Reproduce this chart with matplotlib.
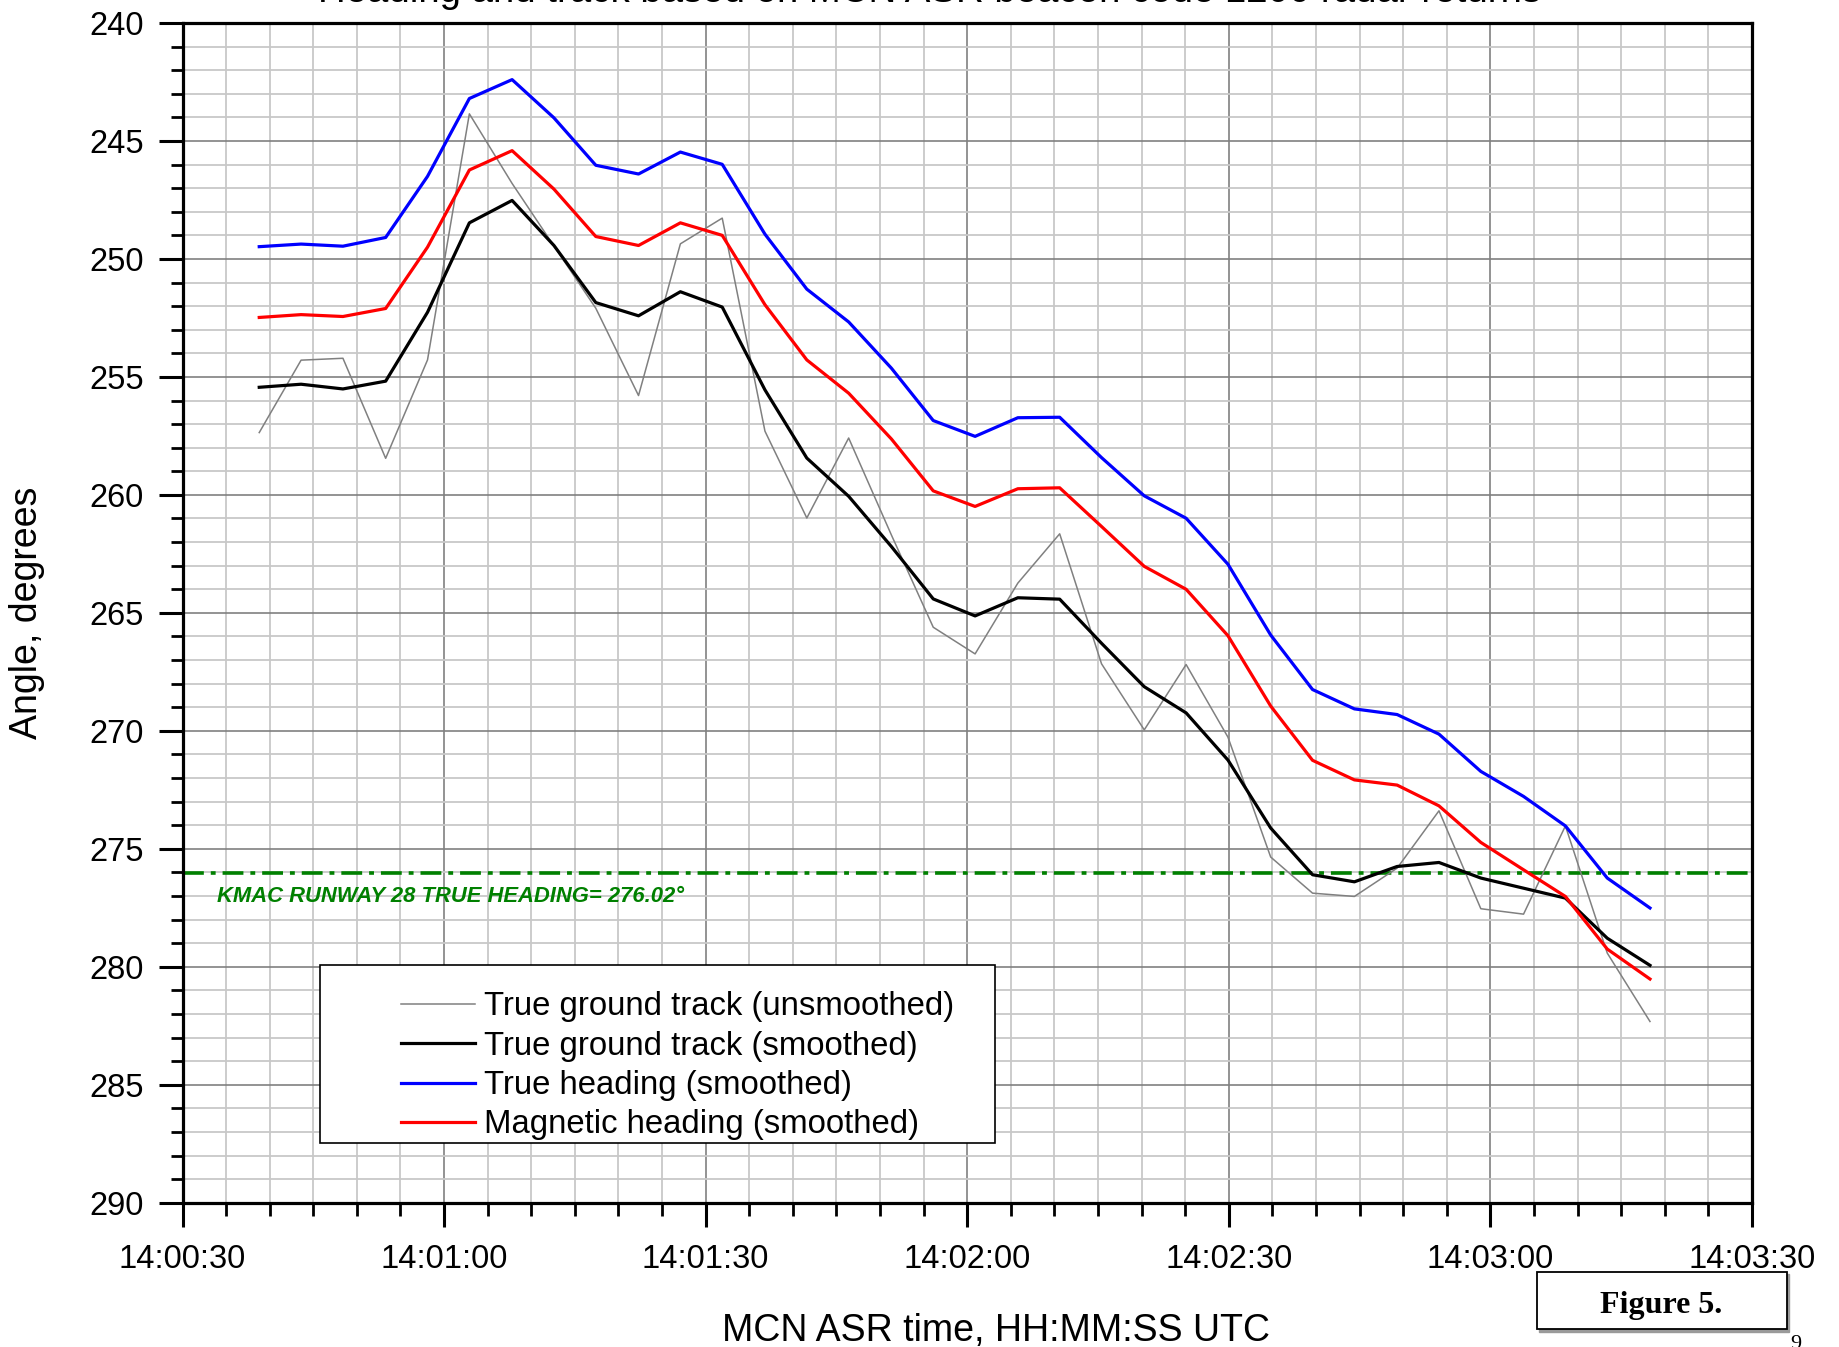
import matplotlib
matplotlib.use('Agg')
import matplotlib.pyplot as plt
from matplotlib.ticker import MultipleLocator, FuncFormatter
from matplotlib.patches import Rectangle

plt.rcParams['font.family'] = ['Liberation Sans', 'DejaVu Sans']
plt.rcParams['lines.scale_dashes'] = False

# ---------------- data ----------------
times = ["14:00:38.8", "14:00:43.6", "14:00:48.4", "14:00:53.3", "14:00:58.1",
         "14:01:02.9", "14:01:07.8", "14:01:12.6", "14:01:17.4", "14:01:22.3",
         "14:01:27.1", "14:01:31.9", "14:01:36.8", "14:01:41.6", "14:01:46.4",
         "14:01:51.3", "14:01:56.1", "14:02:00.9", "14:02:05.8", "14:02:10.6",
         "14:02:15.4", "14:02:20.3", "14:02:25.1", "14:02:29.9", "14:02:34.8",
         "14:02:39.6", "14:02:44.4", "14:02:49.3", "14:02:54.1", "14:02:58.9",
         "14:03:03.8", "14:03:08.6", "14:03:13.4", "14:03:18.3"]

track_unsmoothed = [257.36, 254.29, 254.21, 258.45, 254.28, 243.85, 246.8, 249.45,
                    252.09, 255.79, 249.36, 248.27, 257.3, 260.98, 257.59, 261.7,
                    265.61, 266.74, 263.74, 261.65, 267.16, 269.96, 267.19, 270.27,
                    275.35, 276.88, 277.02, 275.82, 273.39, 277.54, 277.77, 274.03,
                    279.42, 282.32]

track_smoothed = [255.44, 255.31, 255.51, 255.18, 252.26, 248.47, 247.52, 249.43,
                  251.85, 252.41, 251.39, 252.04, 255.55, 258.44, 260.06, 262.19,
                  264.41, 265.13, 264.36, 264.42, 266.29, 268.13, 269.24, 271.24,
                  274.12, 276.1, 276.4, 275.75, 275.58, 276.24, 276.67, 277.09,
                  278.79, 279.94]

true_heading = [249.48, 249.37, 249.46, 249.09, 246.5, 243.2, 242.4, 244.02,
                246.03, 246.4, 245.47, 245.99, 248.95, 251.28, 252.67, 254.63,
                256.85, 257.52, 256.73, 256.71, 258.42, 260.04, 260.99, 262.94,
                265.94, 268.25, 269.07, 269.31, 270.14, 271.72, 272.78, 274.03,
                276.24, 277.51]

magnetic_heading = [252.48, 252.36, 252.44, 252.1, 249.5, 246.23, 245.41, 247.04,
                    249.05, 249.43, 248.47, 249.0, 251.94, 254.28, 255.69, 257.63,
                    259.83, 260.49, 259.74, 259.7, 261.34, 263.03, 264.0, 265.97,
                    268.95, 271.25, 272.08, 272.3, 273.18, 274.73, 275.89, 277.02,
                    279.25, 280.52]

runway_heading = 276.02
x_start, x_end = "14:00:30", "14:03:30"
y_top, y_bottom = 240, 290

labels = ["True ground track (unsmoothed)", "True ground track (smoothed)",
          "True heading (smoothed)", "Magnetic heading (smoothed)"]
title = "Heading and track based on MCN ASR beacon code 1200 radar returns"
runway_label = "KMAC RUNWAY 28 TRUE HEADING= 276.02\u00b0"


def to_sec(s):
    h, m, x = s.split(':')
    return int(h) * 3600 + int(m) * 60 + float(x)


def fmt_time(v, pos=None):
    v = int(round(v))
    return f"{v // 3600:02d}:{(v % 3600) // 60:02d}:{v % 60:02d}"


t = [to_sec(s) for s in times]

# ---------------- figure ----------------
W, H = 1839, 1347
fig = plt.figure(figsize=(W / 100, H / 100), dpi=100)
ax = fig.add_axes([182.5 / W, 1 - 1202.7 / H, (1752 - 182.5) / W, 1179.7 / H])

ax.set_xlim(to_sec(x_start), to_sec(x_end))
ax.set_ylim(y_bottom, y_top)

ax.xaxis.set_major_locator(MultipleLocator(30))
ax.xaxis.set_minor_locator(MultipleLocator(5))
ax.xaxis.set_major_formatter(FuncFormatter(fmt_time))
ax.yaxis.set_major_locator(MultipleLocator(5))
ax.yaxis.set_minor_locator(MultipleLocator(1))

ax.set_axisbelow(True)
ax.grid(which='minor', color='#c8c8c8', lw=1.3)
ax.grid(which='major', color='#808080', lw=1.2)

for sp in ax.spines.values():
    sp.set_linewidth(2.3)
    sp.set_color('black')

ax.tick_params(axis='both', which='major', direction='out', length=17, width=2.2,
               labelsize=23.5, color='black')
ax.tick_params(axis='both', which='minor', direction='out', length=9, width=2.0,
               color='black')
ax.tick_params(axis='y', which='major', pad=11)
ax.tick_params(axis='x', which='major', pad=12.5)

l1, = ax.plot(t, track_unsmoothed, color='#808080', lw=1.1, zorder=3)
l2, = ax.plot(t, track_smoothed, color='black', lw=2.3, zorder=4)
l3, = ax.plot(t, true_heading, color='#0000ff', lw=2.3, zorder=4)
l4, = ax.plot(t, magnetic_heading, color='#ff0000', lw=2.3, zorder=4)

ax.axhline(runway_heading, color='#008000', lw=2.6, dashes=(15, 5, 3.5, 5), zorder=2.5)
ax.text(0.0223, 0.2549, runway_label, transform=ax.transAxes, color='#008000',
        fontsize=15.8, fontweight='bold', fontstyle='italic', ha='left', va='baseline',
        zorder=5)

# legend box
box = Rectangle((0.0876, 0.0502), 0.5174 - 0.0876, 0.2015 - 0.0502,
                transform=ax.transAxes, facecolor='white', edgecolor='black',
                lw=1.2, zorder=6)
ax.add_patch(box)
leg = ax.legend([l1, l2, l3, l4], labels, loc='center left',
                bbox_to_anchor=(0.1392, 0.1160), frameon=False, fontsize=23.7,
                handlelength=2.25, handletextpad=0.27, labelspacing=0.255,
                borderpad=0, borderaxespad=0)
leg.set_zorder(7)

ax.yaxis.set_label_coords(-0.0876, 0.5)
ax.set_ylabel("Angle, degrees", fontsize=27)
fig.text(996 / W, 1 - 1340.5 / H, "MCN ASR time, HH:MM:SS UTC", fontsize=27,
         ha='center', va='baseline')

fig.text(930 / W, 1 - 1.5 / H, title, fontsize=27.6, ha='center', va='baseline')

# Figure 5 box
fig.patches.append(Rectangle((1538.5 / W, 1 - 1331.5 / H), 250 / W, 57.6 / H,
                             transform=fig.transFigure, facecolor='#9a9a9a',
                             edgecolor='#9a9a9a', lw=1.0, zorder=1))
fig.patches.append(Rectangle((1536.7 / W, 1 - 1329.3 / H), 250 / W, 57.6 / H,
                             transform=fig.transFigure, facecolor='white',
                             edgecolor='black', lw=1.3, zorder=2))
fig.text(1661.5 / W, 1 - 1312.7 / H, "Figure 5.", fontsize=23,
         family=['Liberation Serif', 'DejaVu Serif'], fontweight='bold',
         ha='center', va='baseline', zorder=3)
fig.text(1796 / W, 1 - 1335 / H, "9", fontsize=16,
         family=['Liberation Serif', 'DejaVu Serif'], ha='center', va='top')

fig.savefig('out.png', dpi=100)
